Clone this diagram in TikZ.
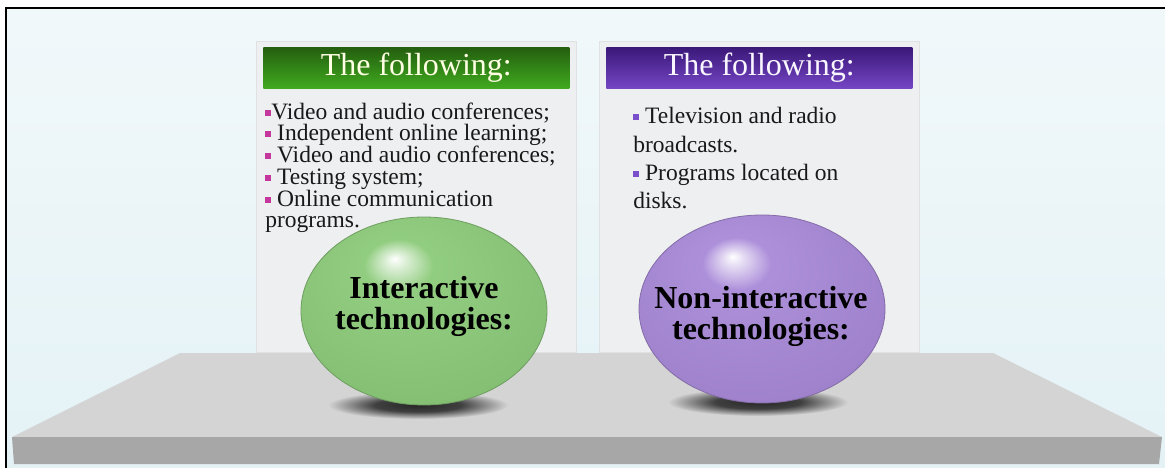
\documentclass[tikz,border=0pt]{standalone}
\usepackage{fontspec}
\setmainfont{Liberation Serif}
\usetikzlibrary{positioning, shapes.geometric}

\definecolor{bgtop}{HTML}{F1F8FA}
\definecolor{bgbottom}{HTML}{E4F2F6}
\definecolor{panelgray}{HTML}{EEEFF0}
\definecolor{headgreentop}{HTML}{245E0F}
\definecolor{headgreenbot}{HTML}{40AA1F}
\definecolor{headvioletop}{HTML}{3A1878}
\definecolor{headvioletbot}{HTML}{7545C4}
\definecolor{headgreentext}{HTML}{FFFFE4}
\definecolor{headviolettext}{HTML}{FAF6FF}
\definecolor{bulletpink}{HTML}{C4379C}
\definecolor{bulletviolet}{HTML}{7A4FCB}
\definecolor{ballgreen}{HTML}{8DCB7B}
\definecolor{ballviolet}{HTML}{A98AD8}
\definecolor{platgray}{HTML}{D4D4D4}
\definecolor{platdark}{HTML}{A7A7A7}

\pgfdeclareradialshading{greenball}{\pgfpoint{-6bp}{14bp}}{%
  color(0bp)=(white); color(2bp)=(ballgreen!30!white); color(7bp)=(ballgreen!96!white);
  color(31bp)=(ballgreen!94!black); color(38bp)=(ballgreen!78!black); color(50bp)=(ballgreen!60!black)}
\pgfdeclareradialshading{violetball}{\pgfpoint{-6bp}{14bp}}{%
  color(0bp)=(white); color(2bp)=(ballviolet!30!white); color(7bp)=(ballviolet!96!white);
  color(31bp)=(ballviolet!94!black); color(38bp)=(ballviolet!78!black); color(50bp)=(ballviolet!60!black)}
\pgfdeclareradialshading{tableshadow}{\pgfpoint{0bp}{0bp}}{%
  color(0bp)=(black!85); color(12bp)=(black!75); color(25bp)=(platgray); color(50bp)=(platgray)}

\newcommand{\sqmark}[1]{\textcolor{#1}{\rule[3.5pt]{6pt}{6pt}}}

\begin{document}
\begin{tikzpicture}[
      x=1pt, y=-1pt,
      panelbox/.style={
         rectangle,
         fill=panelgray,
         draw=panelgray!94!black,
         line width=0.6pt,
         inner sep=0pt,
         anchor=north west,
         minimum width=320pt,
         minimum height=311pt},
      headbox/.style={
         rectangle,
         inner sep=0pt,
         minimum width=306pt,
         minimum height=41pt,
         font=\fontsize{32}{32}\selectfont},
      greenhead/.style={headbox, top color=headgreentop, bottom color=headgreenbot, text=headgreentext},
      violethead/.style={headbox, top color=headvioletop, bottom color=headvioletbot, text=headviolettext},
      listtext/.style={
         inner sep=0pt,
         align=left,
         text=black!90,
         font=\fontsize{23.5}{21.2}\selectfont},
      ballnode/.style={
         ellipse,
         inner sep=0pt,
         line width=0.8pt,
         minimum width=246pt,
         minimum height=188pt},
      balltext/.style={
         align=center,
         inner sep=0pt,
         font=\fontsize{32}{31}\selectfont\bfseries},
      ballshadow/.style={shading=tableshadow}
      ]
      \useasboundingbox (0,0) rectangle (1165,468);
      % backdrop and frame
      \fill[white] (0,0) rectangle (1165,468);
      \shade[top color=bgtop, bottom color=bgbottom] (6,8) rectangle (1165,468);
      \draw[line width=2pt] (6,468) -- (6,8) -- (1165,8);

      % the two cards
      \node[panelbox] (leftpanel) at (256,41) {};
      \node[panelbox] (rightpanel) at (599,41) {};
      \node[greenhead, below=6pt of leftpanel.north] (lefthead) {The following:};
      \node[violethead, below=6pt of rightpanel.north] (righthead) {The following:};

      \node[listtext, below right=14pt and 2pt of lefthead.south west] (leftlist) {%
         \sqmark{bulletpink}Video and audio conferences;\\
         \sqmark{bulletpink} Independent online learning;\\
         \sqmark{bulletpink} Video and audio conferences;\\
         \sqmark{bulletpink} Testing system;\\
         \sqmark{bulletpink} Online communication\\
         programs.};
      \node[listtext, font=\fontsize{23.5}{28.3}\selectfont,
            below right=19pt and 27pt of righthead.south west] (rightlist) {%
         \sqmark{bulletviolet} Television and radio\\
         broadcasts.\\
         \sqmark{bulletviolet} Programs located on\\
         disks.};

      % the table
      \fill[platgray] (180,353) -- (993,353) -- (1162,437) -- (12,437) -- cycle;
      \fill[platdark] (12,437) -- (1162,437) -- (1159,464) -- (14,464) -- cycle;

      % shadows, then the balls
      \shade[ballshadow] (418,405) ellipse (90pt and 14pt);
      \shade[ballshadow] (758,402) ellipse (90pt and 14pt);
      \node[ballnode, shading=greenball, draw=ballgreen!78!black] (intball) at (424,311) {};
      \node[ballnode, shading=violetball, draw=ballviolet!78!black] (nonball) at (762,309) {};
      \node[balltext] (intlabel) at (424,306) {Interactive\\technologies:};
      \node[balltext] (nonlabel) at (761,316) {Non-interactive\\technologies:};
\end{tikzpicture}
\end{document}
